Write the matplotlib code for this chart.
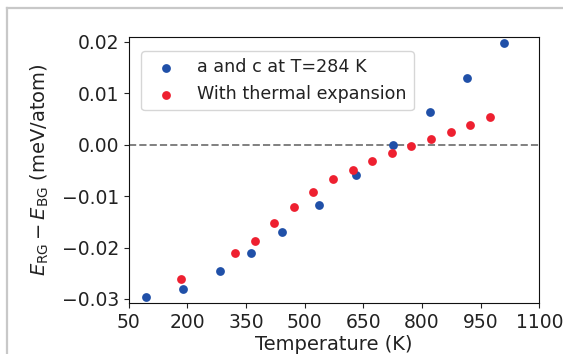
import numpy as np
import matplotlib
matplotlib.use('Agg')
import matplotlib.pyplot as plt
from matplotlib.lines import Line2D

# a and c fixed at T=284 K
t_fixed = [94, 190, 284, 363, 442, 537, 632, 726, 821, 915, 1011]
e_fixed = [-0.0296, -0.0280, -0.02456, -0.0210, -0.0169, -0.01173,
           -0.0060, 0.0000, 0.0064, 0.01294, 0.0197]

# with thermal expansion
t_expand = [184, 323, 373, 422, 473, 522, 573, 624, 673, 723, 773,
            823, 874, 923, 973]
e_expand = [-0.02617, -0.02106, -0.01873, -0.01529, -0.01218, -0.00921,
            -0.00668, -0.00487, -0.00312, -0.00157, -0.00021, 0.00103,
            0.00239, 0.00381, 0.00531]

xticks = [50, 200, 350, 500, 650, 800, 950, 1100]
yticks = [-0.03, -0.02, -0.01, 0.00, 0.01, 0.02]

fig = plt.figure(figsize=(5.63, 3.54), dpi=100)
ax = fig.add_axes([0.2286, 0.1432, 0.9579 - 0.2286, 0.8963 - 0.1432])

ax.scatter(t_fixed, e_fixed, s=40, c='#2050a8', linewidths=0,
           label='a and c at T=284 K', zorder=3)
ax.scatter(t_expand, e_expand, s=40, c='#ee2030', linewidths=0,
           label='With thermal expansion', zorder=3)
ax.axhline(0, ls='--', color='#808080', lw=1.4, zorder=1)

ax.set_xlim(50, 1100)
ax.set_ylim(-0.03084, 0.02097)
ax.set_xticks(xticks)
ax.set_yticks(yticks)
ax.tick_params(labelsize=13.5, colors='#222222')
for sp in ax.spines.values():
    sp.set_color('#111111')

ax.set_xlabel('Temperature (K)', fontsize=14, color='#222222', labelpad=2)
ax.set_ylabel(r'$E_{\rm RG} - E_{\rm BG}$ (meV/atom)', fontsize=14,
              color='#222222', labelpad=8)

leg = ax.legend(loc='upper left', fontsize=12.6, bbox_to_anchor=(0.03, 0.945),
                borderaxespad=0.0)
for t in leg.get_texts():
    t.set_color('#222222')

# grey frame around the figure
fig.add_artist(Line2D([7.5 / 563, 7.5 / 563], [0, 1 - 7.5 / 354],
                      transform=fig.transFigure, color='#c8c8c8', lw=1.6))
fig.add_artist(Line2D([7.5 / 563, 1], [1 - 7.5 / 354, 1 - 7.5 / 354],
                      transform=fig.transFigure, color='#c8c8c8', lw=1.6))

fig.savefig('out.png', dpi=100)
